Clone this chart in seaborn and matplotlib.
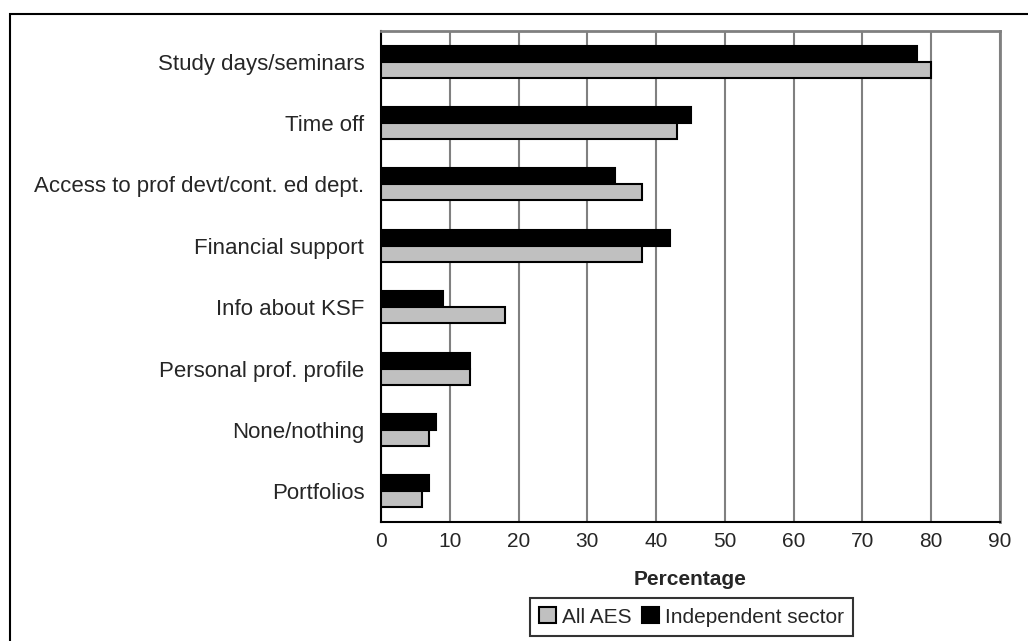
import matplotlib
matplotlib.use("Agg")
import matplotlib.pyplot as plt
from matplotlib.patches import Rectangle, Patch
import pandas as pd
import seaborn as sns

categories = [
    "Study days/seminars",
    "Time off",
    "Access to prof devt/cont. ed dept.",
    "Financial support",
    "Info about KSF",
    "Personal prof. profile",
    "None/nothing",
    "Portfolios",
]
all_aes = [80, 43, 38, 38, 18, 13, 7, 6]
independent = [78, 45, 34, 42, 9, 13, 8, 7]
series_names = ["All AES", "Independent sector"]
x_ticks = [0, 10, 20, 30, 40, 50, 60, 70, 80, 90]

colors = {"All AES": "#C0C0C0", "Independent sector": "#000000"}

df = pd.DataFrame({
    "category": categories * 2,
    "value": all_aes + independent,
    "series": [series_names[0]] * len(categories) + [series_names[1]] * len(categories),
})

sns.set_theme(style="white")
plt.rcParams["font.family"] = ["Liberation Sans", "DejaVu Sans"]

W, H = 1028, 641
left, right, top, bottom = 381, 1000, 31, 522

fig = plt.figure(figsize=(W / 100, H / 100), dpi=100)
ax = fig.add_axes([left / W, 1 - bottom / H, (right - left) / W, (bottom - top) / H])

sns.barplot(
    data=df, y="category", x="value", hue="series",
    order=categories, hue_order=[series_names[1], series_names[0]],
    palette=colors, orient="h", width=0.52, dodge=True,
    edgecolor="black", linewidth=1.5, legend=False, ax=ax, zorder=3,
)

ax.set_xlim(0, 90)
ax.set_ylim(len(categories) - 0.5, -0.5)
ax.set_xticks(x_ticks)
ax.set_xticklabels([str(t) for t in x_ticks], fontsize=15)
ax.set_yticks(range(len(categories)))
ax.set_yticklabels(categories, fontsize=16)
ax.set_yticks([i - 0.5 for i in range(len(categories) + 1)], minor=True)

ax.tick_params(axis="y", which="major", length=0, pad=12)
ax.tick_params(axis="y", which="minor", length=6, width=1.2, color="black", direction="out")
ax.tick_params(axis="x", which="major", length=8, width=1.2, color="#666666",
               direction="inout", pad=3)

ax.xaxis.grid(True, color="#808080", linewidth=1.5, zorder=0)
ax.yaxis.grid(False)
ax.set_axisbelow(True)

for side in ["top", "right"]:
    ax.spines[side].set_color("#808080")
    ax.spines[side].set_linewidth(2)
for side in ["left", "bottom"]:
    ax.spines[side].set_color("black")
    ax.spines[side].set_linewidth(1.5)

ax.set_ylabel("")
ax.set_xlabel("Percentage", fontsize=15, fontweight="bold", labelpad=14)

# outer chart border, running off the right and bottom edges
fig.patches.append(Rectangle((9.5 / W, -0.05), 1.2, 1 - 14 / H + 0.05,
                             transform=fig.transFigure, fill=False,
                             edgecolor="black", linewidth=1.5, zorder=0))

handles = [Patch(facecolor=colors[n], edgecolor="black", linewidth=1.5) for n in series_names]
leg = fig.legend(handles, series_names, loc="center", bbox_to_anchor=(691.5 / W, 1 - 617 / H),
                 ncol=2, fontsize=15, frameon=True, fancybox=False,
                 handlelength=0.8, handleheight=0.8, handletextpad=0.3,
                 columnspacing=0.5, borderpad=0.45, borderaxespad=0)
leg.get_frame().set_edgecolor("black")
leg.get_frame().set_linewidth(1.5)

fig.savefig("out.png", dpi=100)
